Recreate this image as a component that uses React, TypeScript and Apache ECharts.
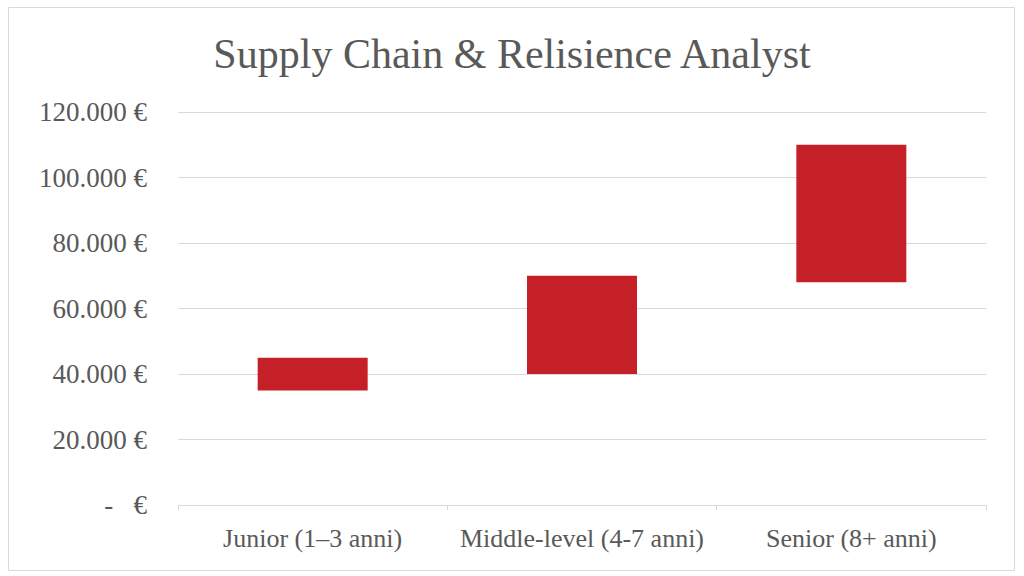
import React, { useEffect, useRef } from "react";
import * as echarts from "echarts";

const categories = ["Junior (1–3 anni)", "Middle-level (4-7 anni)", "Senior (8+ anni)"];
const lowValues = [35000, 40000, 68000];
const highValues = [45000, 70000, 110000];
const rangeValues = highValues.map((h, i) => h - lowValues[i]);

function fmt(v: number): string {
  if (v === 0) return "-   €";
  const s = String(Math.round(v));
  const parts: string[] = [];
  for (let i = s.length; i > 0; i -= 3) parts.unshift(s.slice(Math.max(0, i - 3), i));
  return parts.join(".") + " €";
}

const FONT = "'Liberation Serif', 'DejaVu Serif', serif";

export default function App() {
  const ref = useRef<HTMLDivElement>(null);
  useEffect(() => {
    if (!ref.current) return;
    const chart = echarts.init(ref.current, undefined, { renderer: "svg" });
    chart.setOption({
      animation: false,
      backgroundColor: "#ffffff",
      title: {
        text: "Supply Chain & Relisience Analyst",
        left: "center",
        top: 28,
        textStyle: { fontFamily: FONT, fontSize: 42, fontWeight: "normal", color: "#595959" },
      },
      graphic: [
        {
          type: "rect",
          shape: { x: 8.5, y: 7.5, width: 1006, height: 563 },
          style: { fill: "none", stroke: "#d9d9d9", lineWidth: 1 },
          silent: true,
        },
      ],
      grid: { left: 178, right: 38, top: 112, bottom: 71, containLabel: false },
      xAxis: {
        type: "category",
        data: categories,
        axisLine: { lineStyle: { color: "#d9d9d9", width: 1 } },
        axisTick: { show: true, alignWithLabel: false, length: 5, lineStyle: { color: "#d9d9d9" } },
        axisLabel: { fontFamily: FONT, fontSize: 26, color: "#595959", margin: 20, interval: 0, hideOverlap: false },
      },
      yAxis: {
        type: "value",
        min: 0,
        max: 120000,
        interval: 20000,
        axisLine: { show: false },
        axisTick: { show: false },
        splitLine: { lineStyle: { color: "#d9d9d9", width: 1 } },
        axisLabel: { fontFamily: FONT, fontSize: 27, color: "#595959", margin: 31, formatter: (v: number) => fmt(v) },
      },
      series: [
        {
          type: "bar",
          stack: "range",
          data: lowValues,
          itemStyle: { color: "transparent" },
          barWidth: 110,
          silent: true,
        },
        {
          type: "bar",
          stack: "range",
          data: rangeValues,
          itemStyle: { color: "#C51F27" },
          barWidth: 110,
        },
      ],
    });
    return () => chart.dispose();
  }, []);
  return <div ref={ref} style={{ position: "fixed", left: 0, top: 0, width: 1024, height: 576 }} />;
}
